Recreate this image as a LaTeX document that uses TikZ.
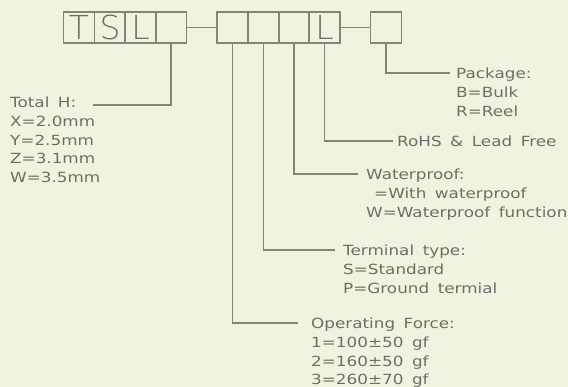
\documentclass[tikz,border=0pt]{standalone}
\usepackage{fontspec}
\setmainfont{DejaVu Sans}[FakeStretch=1.2, WordSpace=1.6]
\newfontfamily\thinfont{DejaVu Sans ExtraLight}
\usetikzlibrary{positioning}
\definecolor{paper}{HTML}{F1F3E1}
\definecolor{ink}{HTML}{84847A}
\definecolor{txt}{HTML}{6E6E68}

\begin{document}
\begin{tikzpicture}[x=1pt,y=-1pt, font=\fontsize{14}{18.7}\selectfont,
  cell/.style={draw=ink, line width=1.1pt, minimum width=31pt, minimum height=31pt,
    inner sep=0pt, text=txt, font=\thinfont\fontsize{33}{33}\selectfont},
  lead/.style={draw=ink, line width=1.1pt},
  lbl/.style={text=txt, align=left, anchor=north west, inner sep=0pt}]
\path[fill=paper, use as bounding box] (0,0) rectangle (568,387);
% part number boxes
\node[cell] (t1) at (79,27.5)    {T};
\node[cell] (t2) at (110,27.5)   {S};
\node[cell] (t3) at (140.5,27.5) {L};
\node[cell] (t4) at (171,27.5)   {};
\node[cell] (d1) at (232.5,27.5) {};
\node[cell] (d2) at (263.5,27.5) {};
\node[cell] (d3) at (294,27.5)   {};
\node[cell] (d4) at (324.5,27.5) {L};
\node[cell] (pk) at (386,27.5)   {};
\draw[lead] (t4.east) -- (d1.west);
\draw[lead] (d4.east) -- (pk.west);
% leader ends
\coordinate (thend) at (93,105);
\coordinate (pkend) at (450,73);
\coordinate (rhend) at (393,141);
\coordinate (wpend) at (358,174);
\coordinate (tmend) at (335,250);
\coordinate (ofend) at (298,323);
% labels
\node[lbl] (th) at (10,97) {Total H:\\X=2.0mm\\Y=2.5mm\\Z=3.1mm\\W=3.5mm};
\node[lbl] (pkl) at (456,68) {Package:\\B=Bulk\\R=Reel};
\node[lbl] (rhl) at (397,136) {RoHS \& Lead Free};
\node[lbl] (wpl) at (366,169) {Waterproof:\\\hspace*{8pt}=With waterproof\\W=Waterproof function};
\node[lbl] (tml) at (343,245) {Terminal type:\\S=Standard\\P=Ground termial};
\node[lbl] (ofl) at (311,318) {Operating Force:\\1=100±50 gf\\2=160±50 gf\\3=260±70 gf};
% leaders
\draw[lead] (t4.south) |- (thend);
\draw[lead] (pk.south) |- (pkend);
\draw[lead] (d4.south) |- (rhend);
\draw[lead] (d3.south) |- (wpend);
\draw[lead] (d2.south) |- (tmend);
\draw[lead] (d1.south) |- (ofend);
\end{tikzpicture}
\end{document}
